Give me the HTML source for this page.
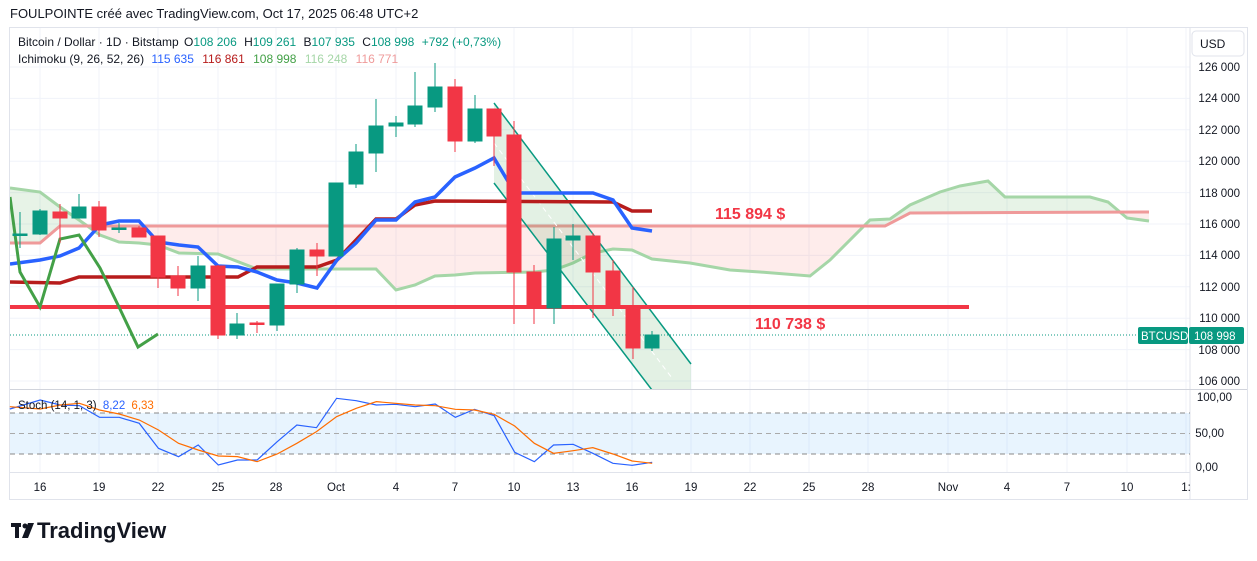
<!DOCTYPE html>
<html><head><meta charset="utf-8"><style>
body{margin:0;background:#fff;width:1257px;height:561px;overflow:hidden;font-family:"Liberation Sans",sans-serif}
svg{position:absolute;left:0;top:0}
</style></head><body>
<svg width="1257" height="561" viewBox="0 0 1257 561" font-family="Liberation Sans, sans-serif">
<defs>
<clipPath id="pane"><rect x="10" y="28" width="1180" height="361"/></clipPath>
<clipPath id="aboveB"><polygon points="0,0 1257,0 1257,212 1149,212 910,213 885,226 60,226 40,243 10,243 0,243"/></clipPath>
<clipPath id="belowB"><polygon points="0,243 10,243 40,243 60,226 885,226 910,213 1149,212 1257,212 1257,400 0,400"/></clipPath>
</defs>
<text x="10" y="18" font-size="13" fill="#131722">FOULPOINTE créé avec TradingView.com, Oct 17, 2025 06:48 UTC+2</text>
<rect x="9.5" y="27.5" width="1238" height="472" fill="none" stroke="#e0e3eb"/>
<g stroke="#f0f3fa" stroke-width="1">
<line x1="10" x2="1190" y1="67" y2="67"/><line x1="10" x2="1190" y1="98.4" y2="98.4"/><line x1="10" x2="1190" y1="129.8" y2="129.8"/><line x1="10" x2="1190" y1="161.2" y2="161.2"/><line x1="10" x2="1190" y1="192.6" y2="192.6"/><line x1="10" x2="1190" y1="224" y2="224"/><line x1="10" x2="1190" y1="255.4" y2="255.4"/><line x1="10" x2="1190" y1="286.8" y2="286.8"/><line x1="10" x2="1190" y1="318.2" y2="318.2"/><line x1="10" x2="1190" y1="349.6" y2="349.6"/><line x1="10" x2="1190" y1="381" y2="381"/>
<line x1="40" x2="40" y1="28" y2="472"/><line x1="99" x2="99" y1="28" y2="472"/><line x1="158" x2="158" y1="28" y2="472"/><line x1="218" x2="218" y1="28" y2="472"/><line x1="276" x2="276" y1="28" y2="472"/><line x1="336" x2="336" y1="28" y2="472"/><line x1="396" x2="396" y1="28" y2="472"/><line x1="455" x2="455" y1="28" y2="472"/><line x1="514" x2="514" y1="28" y2="472"/><line x1="573" x2="573" y1="28" y2="472"/><line x1="632" x2="632" y1="28" y2="472"/><line x1="691" x2="691" y1="28" y2="472"/><line x1="750" x2="750" y1="28" y2="472"/><line x1="809" x2="809" y1="28" y2="472"/><line x1="868" x2="868" y1="28" y2="472"/><line x1="948" x2="948" y1="28" y2="472"/><line x1="1007" x2="1007" y1="28" y2="472"/><line x1="1067" x2="1067" y1="28" y2="472"/><line x1="1127" x2="1127" y1="28" y2="472"/><line x1="1186" x2="1186" y1="28" y2="472"/>
</g>
<line x1="1190" x2="1190" y1="28" y2="500" stroke="#e0e3eb"/>
<line x1="10" x2="1247" y1="389.5" y2="389.5" stroke="#d1d4dc"/>
<line x1="10" x2="1190" y1="472.5" y2="472.5" stroke="#e0e3eb"/>
<g clip-path="url(#pane)">
<g>
<polygon clip-path="url(#aboveB)" fill="rgba(67,160,71,0.13)" points="10,188 40,192 60,207 79,220 100,235 119,242 139,243 158,245 179,253 218,254 257,269 376,269 396,290 415,285 435,276 455,275 475,273 534,272 554,270 573,263 593,253 613,249 632,250 652,259 690,263 730,270 760,272 810,276 830,260 870,220 890,219 910,205 940,192 960,186 988,181 1005,197 1090,197 1108,202 1127,218 1149,221 1149,212 910,213 885,226 60,226 40,243 10,243"/>
<polygon clip-path="url(#belowB)" fill="rgba(244,67,54,0.1)" points="10,188 40,192 60,207 79,220 100,235 119,242 139,243 158,245 179,253 218,254 257,269 376,269 396,290 415,285 435,276 455,275 475,273 534,272 554,270 573,263 593,253 613,249 632,250 652,259 690,263 730,270 760,272 810,276 830,260 870,220 890,219 910,205 940,192 960,186 988,181 1005,197 1090,197 1108,202 1127,218 1149,221 1149,212 910,213 885,226 60,226 40,243 10,243"/>
<polyline fill="none" stroke="#a5d6a7" stroke-width="3" points="10,188 40,192 60,207 79,220 100,235 119,242 139,243 158,245 179,253 218,254 257,269 376,269 396,290 415,285 435,276 455,275 475,273 534,272 554,270 573,263 593,253 613,249 632,250 652,259 690,263 730,270 760,272 810,276 830,260 870,220 890,219 910,205 940,192 960,186 988,181 1005,197 1090,197 1108,202 1127,218 1149,221"/>
<polyline fill="none" stroke="#ef9a9a" stroke-width="3" points="10,243 40,243 60,226 885,226 910,213 1149,212"/>
</g>
<polygon points="494,103 691,364 691,390 651,390 494,183" fill="rgba(67,160,71,0.15)"/>
<line x1="494" y1="103" x2="691" y2="364" stroke="#089981" stroke-width="1.5"/>
<line x1="494" y1="183" x2="652" y2="390" stroke="#089981" stroke-width="1.5"/>
<line x1="494" y1="143" x2="672" y2="378" stroke="#fff" stroke-width="1" stroke-dasharray="5,4"/>
<line x1="10" x2="969" y1="307" y2="307" stroke="#f23645" stroke-width="4"/>
<line x1="10" x2="1138" y1="335" y2="335" stroke="#089981" stroke-width="1" stroke-dasharray="1,2"/>
<polyline fill="none" stroke="#b71c1c" stroke-width="3.5" points="10,282 60,283 79,277 238,277 257,267 317,267 337,260 376,219 396,219 415,205 435,201 613,202 632,211 652,211"/>
<polyline fill="none" stroke="#2962ff" stroke-width="3.5" points="10,264 40,260 60,256 79,248 100,225 119,221 139,221 158,242 179,245 198,247 218,266 238,267 257,272 277,280 297,283 317,288 337,260 356,243 376,220 396,220 415,202 435,197 455,177 475,168 494,158 515,193 534,193 593,193 613,200 632,228 652,231"/>
<polyline fill="none" stroke="#43a047" stroke-width="3" points="10,197 20,272 40,307 60,239 79,235 100,268 119,307 138,347 158,334"/>
<g stroke-width="1">
<g stroke="#089981" fill="#089981">
<line x1="20" x2="20" y1="212" y2="248"/><rect x="13" y="234" width="14" height="1.5"/>
<line x1="40" x2="40" y1="209" y2="235"/><rect x="33" y="211" width="14" height="23"/>
<line x1="79" x2="79" y1="194" y2="218"/><rect x="72" y="207" width="14" height="11"/>
<line x1="119" x2="119" y1="223" y2="233"/><rect x="112" y="228" width="14" height="1.5"/>
<line x1="198" x2="198" y1="256" y2="301"/><rect x="191" y="266" width="14" height="22"/>
<line x1="237" x2="237" y1="313" y2="339"/><rect x="230" y="324" width="14" height="11"/>
<line x1="277" x2="277" y1="284" y2="331"/><rect x="270" y="284" width="14" height="41"/>
<line x1="297" x2="297" y1="248" y2="293"/><rect x="290" y="250" width="14" height="34"/>
<line x1="336" x2="336" y1="183" y2="256"/><rect x="329" y="183" width="14" height="73"/>
<line x1="356" x2="356" y1="144" y2="188"/><rect x="349" y="152" width="14" height="32"/>
<line x1="376" x2="376" y1="99" y2="172"/><rect x="369" y="126" width="14" height="27"/>
<line x1="396" x2="396" y1="116" y2="137"/><rect x="389" y="123" width="14" height="3"/>
<line x1="415" x2="415" y1="72" y2="127"/><rect x="408" y="106" width="14" height="18"/>
<line x1="435" x2="435" y1="63" y2="112"/><rect x="428" y="87" width="14" height="20"/>
<line x1="475" x2="475" y1="95" y2="143"/><rect x="468" y="109" width="14" height="32"/>
<line x1="554" x2="554" y1="227" y2="324"/><rect x="547" y="239" width="14" height="69"/>
<line x1="573" x2="573" y1="224" y2="260"/><rect x="566" y="236" width="14" height="4"/>
<line x1="652" x2="652" y1="331" y2="351"/><rect x="645" y="335" width="14" height="13"/>
</g>
<g stroke="#f23645" fill="#f23645">
<line x1="60" x2="60" y1="204" y2="243"/><rect x="53" y="212" width="14" height="6"/>
<line x1="99" x2="99" y1="201" y2="237"/><rect x="92" y="207" width="14" height="23"/>
<line x1="139" x2="139" y1="226" y2="237"/><rect x="132" y="228" width="14" height="9"/>
<line x1="158" x2="158" y1="236" y2="288"/><rect x="151" y="236" width="14" height="41"/>
<line x1="178" x2="178" y1="266" y2="296"/><rect x="171" y="276" width="14" height="12"/>
<line x1="218" x2="218" y1="265" y2="339"/><rect x="211" y="266" width="14" height="69"/>
<line x1="257" x2="257" y1="321" y2="333"/><rect x="250" y="323" width="14" height="1.5"/>
<line x1="317" x2="317" y1="243" y2="276"/><rect x="310" y="250" width="14" height="6"/>
<line x1="455" x2="455" y1="79" y2="152"/><rect x="448" y="87" width="14" height="54"/>
<line x1="494" x2="494" y1="109" y2="166"/><rect x="487" y="109" width="14" height="27"/>
<line x1="514" x2="514" y1="121" y2="324"/><rect x="507" y="135" width="14" height="137"/>
<line x1="534" x2="534" y1="265" y2="324"/><rect x="527" y="272" width="14" height="35"/>
<line x1="593" x2="593" y1="233" y2="318"/><rect x="586" y="236" width="14" height="36"/>
<line x1="613" x2="613" y1="260" y2="316"/><rect x="606" y="271" width="14" height="36"/>
<line x1="633" x2="633" y1="287" y2="359"/><rect x="626" y="306" width="14" height="42"/>
</g>
</g>
<text x="715" y="219" font-size="16" font-weight="bold" fill="#f23645">115 894 $</text>
<text x="755" y="329" font-size="16" font-weight="bold" fill="#f23645">110 738 $</text>
</g>
<g font-size="12">
<text x="18" y="46" fill="#131722">Bitcoin / Dollar · 1D · Bitstamp <tspan dx="2">O</tspan><tspan fill="#089981">108 206</tspan> <tspan dx="4">H</tspan><tspan fill="#089981">109 261</tspan> <tspan dx="4">B</tspan><tspan fill="#089981">107 935</tspan> <tspan dx="4">C</tspan><tspan fill="#089981">108 998</tspan> <tspan dx="4" fill="#089981">+792 (+0,73%)</tspan></text>
<text x="18" y="63" fill="#131722">Ichimoku (9, 26, 52, 26) <tspan dx="4" fill="#2962ff">115 635</tspan> <tspan dx="5" fill="#b71c1c">116 861</tspan> <tspan dx="5" fill="#43a047">108 998</tspan> <tspan dx="5" fill="#a5d6a7">116 248</tspan> <tspan dx="5" fill="#ef9a9a">116 771</tspan></text>
</g>
<rect x="1192" y="31" width="52" height="25" rx="4" fill="#fff" stroke="#e0e3eb"/>
<text x="1200" y="48" font-size="12" fill="#131722">USD</text>
<g font-size="11.5" fill="#131722" text-anchor="end">
<text x="1240" y="71">126 000</text><text x="1240" y="102">124 000</text><text x="1240" y="134">122 000</text><text x="1240" y="165">120 000</text><text x="1240" y="197">118 000</text><text x="1240" y="228">116 000</text><text x="1240" y="259">114 000</text><text x="1240" y="291">112 000</text><text x="1240" y="322">110 000</text><text x="1240" y="354">108 000</text><text x="1240" y="385">106 000</text>
<text x="1232" y="401">100,00</text><text x="1224" y="437">50,00</text><text x="1218" y="471">0,00</text>
</g>
<rect x="1138" y="327" width="50" height="17" rx="2" fill="#089981"/>
<text x="1141" y="340" font-size="11.5" fill="#fff">BTCUSD</text>
<rect x="1189" y="327" width="55" height="17" rx="2" fill="#089981"/>
<text x="1194" y="340" font-size="11.5" fill="#fff">108 998</text>
<rect x="10" y="413" width="1180" height="41" fill="rgba(33,150,243,0.1)"/>
<g stroke="#888" stroke-dasharray="5,4" stroke-width="1">
<line x1="10" x2="1190" y1="413" y2="413"/><line x1="10" x2="1190" y1="433.5" y2="433.5" stroke="#aaa"/><line x1="10" x2="1190" y1="454" y2="454"/>
</g>
<g transform="translate(0,385) scale(0.4464,0.3333)" fill="none" stroke-width="1.2">
<polyline vector-effect="non-scaling-stroke" stroke="#2962ff" points="22,72 90,45 135,60 178,62 223,97 267,97 312,115 355,190 400,215 444,180 489,240 532,225 576,225 621,170 665,120 709,128 754,40 798,47 843,60 886,58 930,65 975,57 1020,97 1063,73 1107,92 1153,202 1197,230 1240,180 1284,178 1328,205 1373,235 1416,241 1461,232"/>
<polyline vector-effect="non-scaling-stroke" stroke="#ff6d00" points="22,65 90,72 135,60 178,55 223,75 267,87 312,105 355,135 400,175 444,195 489,213 532,215 576,230 621,207 665,175 709,140 754,95 798,70 843,50 886,55 930,60 975,62 1020,73 1063,75 1107,88 1153,123 1197,175 1240,205 1284,197 1328,188 1373,207 1416,228 1461,235"/>
</g>
<text x="18" y="409" font-size="11.5" fill="#131722">Stoch (14, 1, 3) <tspan dx="3" fill="#2962ff">8,22</tspan> <tspan dx="3" fill="#ff6d00">6,33</tspan></text>
<g font-size="11.5" fill="#131722" text-anchor="middle">
<text x="40" y="491">16</text><text x="99" y="491">19</text><text x="158" y="491">22</text><text x="218" y="491">25</text><text x="276" y="491">28</text><text x="336" y="491">Oct</text><text x="396" y="491">4</text><text x="455" y="491">7</text><text x="514" y="491">10</text><text x="573" y="491">13</text><text x="632" y="491">16</text><text x="691" y="491">19</text><text x="750" y="491">22</text><text x="809" y="491">25</text><text x="868" y="491">28</text><text x="948" y="491">Nov</text><text x="1007" y="491">4</text><text x="1067" y="491">7</text><text x="1127" y="491">10</text><text x="1186" y="491">1:</text>
</g>
<g fill="#131722">
<rect x="11" y="523" width="10" height="4"/><rect x="15" y="523" width="4" height="15"/>
<circle cx="25" cy="526" r="2.5"/>
<polygon points="28,523 34,523 28,538 22,538"/>
<text x="37" y="538" font-size="22" font-weight="bold">TradingView</text>
</g>
</svg>
</body></html>
